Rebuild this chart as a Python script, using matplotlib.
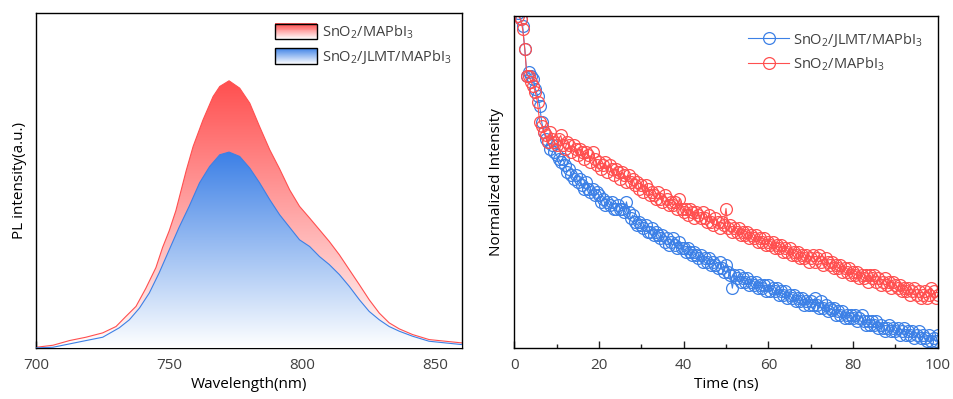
import numpy as np
import matplotlib
matplotlib.use('Agg')
import matplotlib.pyplot as plt
from matplotlib.colors import LinearSegmentedColormap, to_rgb
from matplotlib.legend_handler import HandlerBase
from matplotlib.patches import Rectangle, Patch

plt.rcParams['font.family'] = 'Open Sans'
plt.rcParams['mathtext.default'] = 'regular'
plt.rcParams['text.color'] = '#404040'
plt.rcParams['xtick.color'] = '#202020'
plt.rcParams['xtick.labelcolor'] = '#404040'

# PL spectra (wavelength in nm, intensity a.u.)
wl_ref = [700, 706.3, 712.5, 718.7, 725, 730, 733.7, 737.5, 741.2, 745, 747.5,
          750, 752.5, 756.4, 759, 762.7, 766.5, 769, 772.5, 776.5, 780.3, 784,
          787.8, 791.5, 795.3, 799, 802.8, 806.5, 810.2, 814, 817.7, 821.5,
          825.2, 829, 832.7, 836.5, 841.5, 847.7, 860]
pl_ref = [0.002, 0.008, 0.022, 0.032, 0.045, 0.064, 0.094, 0.124, 0.178, 0.24,
          0.30, 0.35, 0.41, 0.53, 0.602, 0.681, 0.751, 0.781, 0.798, 0.776,
          0.731, 0.661, 0.592, 0.535, 0.472, 0.423, 0.388, 0.353, 0.318, 0.278,
          0.234, 0.189, 0.144, 0.104, 0.075, 0.057, 0.04, 0.025, 0.015]
wl_jlmt = [700, 706.3, 712.5, 718.7, 725, 731.2, 735, 738.8, 742.5, 746.2, 750,
           753.7, 757.5, 761.4, 765.2, 769, 772.5, 776.5, 780.3, 784, 787.8,
           791.5, 795.3, 799, 802.8, 806.5, 810.2, 814, 817.7, 821.5, 825.2,
           829, 832.7, 836.5, 841.5, 847.7, 860]
pl_jlmt = [0.0, 0.002, 0.012, 0.022, 0.032, 0.06, 0.084, 0.119, 0.164, 0.224,
           0.293, 0.36, 0.423, 0.493, 0.542, 0.577, 0.585, 0.572, 0.537, 0.493,
           0.443, 0.398, 0.36, 0.323, 0.303, 0.273, 0.249, 0.219, 0.184, 0.144,
           0.109, 0.084, 0.064, 0.05, 0.035, 0.02, 0.01]

# TRPL decay (time in ns, normalized intensity), 0.5 ns steps
t = [i * 0.5 for i in range(201)]
trpl_ref = [
    1.02, 1.02, 1.00, 0.99, 0.96, 0.90, 0.82, 0.82, 0.80, 0.79,
    0.77, 0.74, 0.68, 0.67, 0.65, 0.64, 0.62, 0.65, 0.63, 0.62,
    0.61, 0.63, 0.64, 0.61, 0.60, 0.62, 0.61, 0.59, 0.61, 0.60,
    0.58, 0.60, 0.59, 0.57, 0.59, 0.58, 0.56, 0.59, 0.57, 0.55,
    0.56, 0.54, 0.55, 0.56, 0.53, 0.55, 0.54, 0.52, 0.54, 0.53,
    0.51, 0.53, 0.52, 0.50, 0.52, 0.50, 0.51, 0.49, 0.50, 0.48,
    0.49, 0.47, 0.49, 0.48, 0.46, 0.47, 0.46, 0.45, 0.47, 0.45,
    0.44, 0.46, 0.45, 0.43, 0.44, 0.43, 0.44, 0.42, 0.45, 0.42,
    0.41, 0.42, 0.40, 0.42, 0.41, 0.39, 0.41, 0.40, 0.39, 0.41,
    0.39, 0.38, 0.40, 0.38, 0.37, 0.39, 0.38, 0.36, 0.38, 0.37,
    0.42, 0.36, 0.37, 0.35, 0.36, 0.35, 0.36, 0.34, 0.35, 0.34,
    0.35, 0.33, 0.34, 0.33, 0.34, 0.32, 0.33, 0.32, 0.33, 0.31,
    0.32, 0.31, 0.32, 0.30, 0.31, 0.30, 0.31, 0.29, 0.30, 0.29,
    0.30, 0.28, 0.29, 0.28, 0.29, 0.27, 0.28, 0.27, 0.28, 0.26,
    0.27, 0.28, 0.26, 0.27, 0.28, 0.26, 0.25, 0.27, 0.26, 0.25,
    0.26, 0.24, 0.25, 0.24, 0.25, 0.23, 0.24, 0.23, 0.24, 0.22,
    0.23, 0.22, 0.23, 0.21, 0.22, 0.21, 0.22, 0.20, 0.22, 0.21,
    0.22, 0.20, 0.21, 0.19, 0.20, 0.21, 0.19, 0.20, 0.18, 0.20,
    0.19, 0.18, 0.19, 0.17, 0.18, 0.17, 0.18, 0.16, 0.17, 0.18,
    0.16, 0.17, 0.15, 0.16, 0.17, 0.15, 0.16, 0.18, 0.17, 0.15,
    0.16]
trpl_jlmt = [
    1.02, 1.02, 1.01, 0.99, 0.97, 0.90, 0.82, 0.83, 0.82, 0.81,
    0.78, 0.76, 0.73, 0.68, 0.65, 0.63, 0.62, 0.60, 0.61, 0.59,
    0.58, 0.57, 0.56, 0.57, 0.55, 0.53, 0.54, 0.52, 0.51, 0.52,
    0.50, 0.51, 0.49, 0.48, 0.50, 0.48, 0.47, 0.48, 0.46, 0.47,
    0.46, 0.44, 0.45, 0.43, 0.44, 0.43, 0.44, 0.42, 0.42, 0.43,
    0.42, 0.42, 0.41, 0.44, 0.41, 0.39, 0.40, 0.38, 0.37, 0.38,
    0.37, 0.36, 0.37, 0.35, 0.35, 0.36, 0.34, 0.35, 0.34, 0.33,
    0.34, 0.32, 0.33, 0.31, 0.32, 0.33, 0.31, 0.30, 0.32, 0.30,
    0.30, 0.29, 0.30, 0.29, 0.28, 0.29, 0.28, 0.27, 0.28, 0.26,
    0.27, 0.26, 0.27, 0.25, 0.26, 0.25, 0.24, 0.26, 0.24, 0.23,
    0.25, 0.23, 0.22, 0.18, 0.22, 0.21, 0.22, 0.20, 0.21, 0.20,
    0.21, 0.19, 0.20, 0.19, 0.20, 0.18, 0.19, 0.18, 0.19, 0.17,
    0.19, 0.17, 0.18, 0.17, 0.18, 0.16, 0.17, 0.16, 0.17, 0.15,
    0.16, 0.15, 0.16, 0.14, 0.15, 0.14, 0.15, 0.13, 0.14, 0.13,
    0.14, 0.13, 0.15, 0.13, 0.12, 0.14, 0.12, 0.13, 0.11, 0.12,
    0.115, 0.12, 0.10, 0.11, 0.10, 0.11, 0.09, 0.10, 0.09, 0.10,
    0.09, 0.10, 0.08, 0.09, 0.10, 0.08, 0.07, 0.08, 0.07, 0.08,
    0.07, 0.08, 0.06, 0.07, 0.06, 0.05, 0.06, 0.07, 0.05, 0.06,
    0.05, 0.06, 0.04, 0.05, 0.06, 0.04, 0.05, 0.04, 0.05, 0.03,
    0.04, 0.05, 0.03, 0.04, 0.03, 0.02, 0.04, 0.02, 0.03, 0.02,
    0.04]

lbl_ref = 'SnO$_2$/MAPbI$_3$'
lbl_jlmt = 'SnO$_2$/JLMT/MAPbI$_3$'
red = '#ff4f4f'
blue = '#3c80e6'


def gradient_fill(ax, x, y, color, z):
    cmap = LinearSegmentedColormap.from_list('g', ['#ffffff', color])
    poly = ax.fill_between(x, 0, y, facecolor='none', edgecolor='none')
    grad = np.linspace(0, 1, 256).reshape(-1, 1)
    im = ax.imshow(grad, cmap=cmap, origin='lower', aspect='auto',
                   extent=[min(x), max(x), 0, max(y)], zorder=z)
    im.set_clip_path(poly.get_paths()[0], transform=ax.transData)
    ax.plot(x, y, color=color, lw=0.8, zorder=z + 0.1)


class GradHandler(HandlerBase):
    def __init__(self, color):
        super().__init__()
        self.color = np.array(to_rgb(color))

    def create_artists(self, legend, orig_handle, xdescent, ydescent, width,
                       height, fontsize, trans):
        arts = []
        n = 16
        for i in range(n):
            f = (i + 0.5) / n
            c = (1 - f) * np.ones(3) + f * self.color
            arts.append(Rectangle((-xdescent, -ydescent + height * i / n), width,
                                  height / n + 0.3, facecolor=c, edgecolor='none',
                                  transform=trans))
        arts.append(Rectangle((-xdescent, -ydescent), width, height, fill=False,
                              edgecolor='k', lw=1, transform=trans))
        return arts


fig = plt.figure(figsize=(9.54, 3.99), dpi=100)
ax1 = fig.add_axes([0.038, 0.128, 0.446, 0.839])
ax2 = fig.add_axes([0.539, 0.128, 0.444, 0.832])

# left: PL
gradient_fill(ax1, wl_ref, pl_ref, red, 2)
gradient_fill(ax1, wl_jlmt, pl_jlmt, blue, 3)
ax1.set_xlim(700, 860)
ax1.set_ylim(0, 1)
ax1.set_xticks([700, 750, 800, 850])
ax1.set_xticks([725, 775, 825], minor=True)
ax1.set_yticks([])
ax1.tick_params(axis='x', direction='in', length=5, width=1, labelsize=11, pad=7)
ax1.tick_params(axis='x', which='minor', direction='in', length=3, width=1)
ax1.set_xlabel('Wavelength(nm)', fontsize=11, labelpad=3)
ax1.set_ylabel('PL intensity(a.u.)', fontsize=11, labelpad=7)
h_ref = Patch(label=lbl_ref)
h_jlmt = Patch(label=lbl_jlmt)
ax1.legend(handles=[h_ref, h_jlmt], loc='upper right', frameon=False,
           fontsize=10.5, handlelength=2.9, handleheight=1.3, handletextpad=0.3,
           labelspacing=0.5, borderaxespad=0.4, borderpad=0.3,
           handler_map={h_ref: GradHandler(red), h_jlmt: GradHandler(blue)})

# right: TRPL
ax2.plot(t, trpl_jlmt, color=blue, lw=0.8, marker='o', ms=8.5, mfc='none',
         mec=blue, mew=0.9, label=lbl_jlmt)
ax2.plot(t, trpl_ref, color=red, lw=0.8, marker='o', ms=8.5, mfc='none',
         mec=red, mew=0.9, label=lbl_ref)
ax2.set_xlim(0, 100)
ax2.set_ylim(0, 1.0)
ax2.set_xticks(range(0, 101, 20))
ax2.set_xticks(range(10, 100, 20), minor=True)
ax2.set_yticks([])
ax2.tick_params(axis='x', direction='in', length=5, width=1, labelsize=11, pad=7)
ax2.tick_params(axis='x', which='minor', direction='in', length=3, width=1)
ax2.set_xlabel('Time (ns)', fontsize=11, labelpad=3)
ax2.set_ylabel('Normalized Intensity', fontsize=11, labelpad=7)
ax2.legend(loc='upper right', frameon=False, fontsize=10.5, handlelength=2.8,
           labelspacing=0.45, handletextpad=0.3, borderaxespad=0.6)

for ax in (ax1, ax2):
    for s in ax.spines.values():
        s.set_linewidth(1)

plt.savefig('out.png', dpi=100)
